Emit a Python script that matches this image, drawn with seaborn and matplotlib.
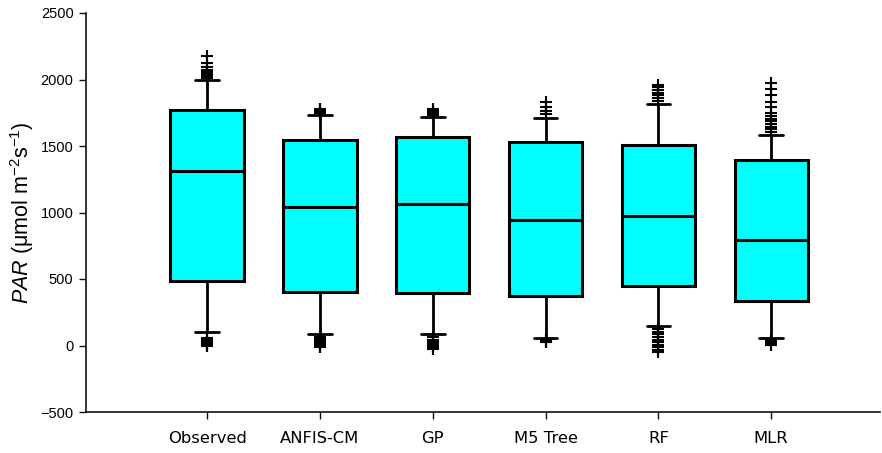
import matplotlib
matplotlib.use("Agg")
import matplotlib.pyplot as plt
import seaborn as sns

# Box summaries per model (whiskers at the 10th/90th percentiles)
categories = ["Observed", "ANFIS-CM", "GP", "M5 Tree", "RF", "MLR"]
q1 = [482, 405, 395, 375, 445, 335]
medians = [1310, 1045, 1062, 940, 975, 795]
q3 = [1772, 1548, 1565, 1532, 1505, 1395]
whisker_low = [100, 85, 87, 60, 150, 55]
whisker_high = [1997, 1730, 1718, 1710, 1818, 1582]
outliers_high = [
    [2012, 2025, 2040, 2055, 2075, 2095, 2125, 2180],
    [1745, 1755, 1765, 1775],
    [1730, 1745, 1760, 1780],
    [1740, 1765, 1795, 1830],
    [1840, 1860, 1880, 1900, 1920, 1940, 1958],
    [1605, 1625, 1645, 1665, 1685, 1705, 1725, 1750, 1790, 1830, 1880, 1925, 1970],
]
outliers_low = [
    [55, 45, 35, 25, 18, 10, 3, -5],
    [65, 50, 35, 22, 10, 0, -10],
    [65, 45, 30, 15, 0, -12, -25],
    [45, 35, 28],
    [125, 105, 85, 65, 45, 25, 5, -15, -35, -50],
    [40, 28, 15, 5],
]

sns.set_style("ticks", {"text.color": "black", "axes.labelcolor": "black",
                        "xtick.color": "#111111", "ytick.color": "#111111",
                        "axes.edgecolor": "#111111"})
plt.rcParams["font.family"] = ["Liberation Sans", "DejaVu Sans"]
plt.rcParams["mathtext.fontset"] = "custom"
plt.rcParams["mathtext.rm"] = "Liberation Sans"
plt.rcParams["mathtext.it"] = "Liberation Sans:italic"

fig = plt.figure(figsize=(8.82, 4.53), dpi=100)
ax = fig.add_axes([86 / 882, 1 - 412 / 453, 1 - 86 / 882 - 0.002, (412 - 13) / 453])

stats = []
for i, name in enumerate(categories):
    stats.append({
        "label": name,
        "q1": q1[i],
        "med": medians[i],
        "q3": q3[i],
        "whislo": whisker_low[i],
        "whishi": whisker_high[i],
        "fliers": outliers_low[i] + outliers_high[i],
    })

positions = list(range(1, len(categories) + 1))
ax.bxp(
    stats,
    positions=positions,
    widths=0.65,
    capwidths=0.21,
    patch_artist=True,
    boxprops=dict(facecolor="#00FFFF", edgecolor="black", linewidth=2.2),
    medianprops=dict(color="black", linewidth=2.2),
    whiskerprops=dict(color="black", linewidth=2.0),
    capprops=dict(color="black", linewidth=2.0),
    flierprops=dict(marker="+", markersize=8, markeredgecolor="black",
                    markeredgewidth=1.5, linestyle="none"),
)

ax.set_xlim(-0.073, 6.966)
ax.set_ylim(-500, 2500)
ax.set_yticks(range(-500, 2501, 500))
ax.set_yticklabels([str(v) if v >= 0 else "\u2212" + str(-v) for v in range(-500, 2501, 500)])
ax.set_xticks(positions)
ax.set_xticklabels(categories, family=["DejaVu Sans Condensed", "DejaVu Sans"], fontsize=11.8)
ax.tick_params(axis="y", labelsize=10.5, length=5, width=1, pad=4, labelcolor="black")
ax.tick_params(axis="x", length=5, width=1, pad=9, labelcolor="black")
ax.set_ylabel("$\\it{PAR}$ (\u03bcmol m$^{-2}$s$^{-1}$)", fontsize=15.5, labelpad=3,
              color="black")

sns.despine(ax=ax)
for side in ("left", "bottom"):
    ax.spines[side].set_linewidth(1.2)

fig.savefig("out.png", dpi=100)
